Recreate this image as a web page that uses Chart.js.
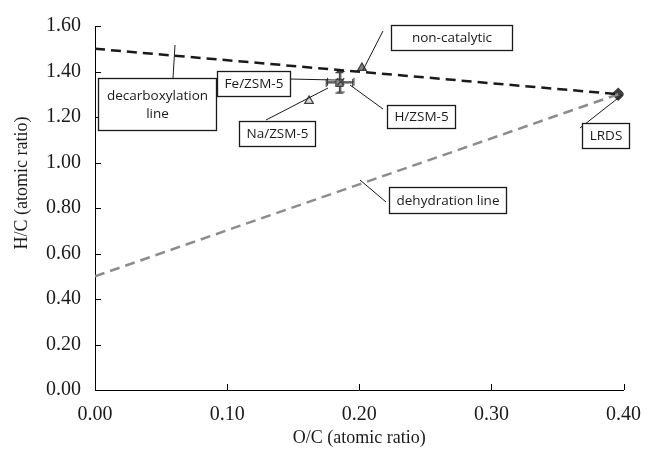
<!DOCTYPE html>
<html><head><meta charset="utf-8">
<script src="https://cdn.jsdelivr.net/npm/chart.js@4"></script>
<style>html,body{margin:0;padding:0;background:#fff}#wrap{width:654px;height:449px;position:relative}</style>
</head><body><div id="wrap"><canvas id="c"></canvas></div>
<script>
// ---- data ----
const sampleNames = ['LRDS', 'non-catalytic', 'H/ZSM-5', 'Fe/ZSM-5', 'Na/ZSM-5'];
const ocValues = [0.396, 0.202, 0.185, 0.186, 0.162];
const hcValues = [1.300, 1.416, 1.350, 1.355, 1.271];
const ocErrors = [0, 0, 0.010, 0.010, 0];
const hcErrors = [0, 0, 0.045, 0.045, 0];
const decarboxylationOC = [0.000, 0.396];
const decarboxylationHC = [1.500, 1.300];
const dehydrationOC = [0.000, 0.396];
const dehydrationHC = [0.500, 1.300];
const xTickValues = [0.00, 0.10, 0.20, 0.30, 0.40];
const yTickValues = [0.00, 0.20, 0.40, 0.60, 0.80, 1.00, 1.20, 1.40, 1.60];
const xAxisTitle = 'O/C (atomic ratio)';
const yAxisTitle = 'H/C (atomic ratio)';

// ---- styles ----
const markerStyles = ['rectRot', 'triangle', 'rect', 'crossRot', 'triangle'];
const markerFill = ['#404040', '#7f7f7f', '#8c8c8c', '#404040', '#d9d9d9'];
const markerBorder = ['#404040', '#404040', '#404040', '#404040', '#404040'];
const markerRadius = [6, 5, 5, 5, 5];

// annotation boxes (pixel layout)
const annotations = [
  {lines: ['decarboxylation', 'line'], left: 98, top: 78, width: 118, height: 52, leader: [173, 78, 175, 45]},
  {lines: ['Fe/ZSM-5'], left: 217, top: 71, height: 25, leader: [290, 79, 335, 80]},
  {lines: ['non-catalytic'], left: 391, top: 25, width: 121, height: 25, leader: [383, 31, 363, 70]},
  {lines: ['H/ZSM-5'], left: 387, top: 105, height: 23, leader: [383, 109, 350, 85]},
  {lines: ['Na/ZSM-5'], left: 239, top: 121, height: 25, leader: [266, 120, 328, 88]},
  {lines: ['dehydration line'], left: 389, top: 187, width: 117, height: 26, leader: [386, 202, 360, 180]},
  {lines: ['LRDS'], left: 582, top: 123, height: 25, leader: [580, 128, 622, 95]}
];

const points = sampleNames.map((n, i) => ({x: ocValues[i], y: hcValues[i]}));

const extrasPlugin = {
  id: 'extras',
  beforeDatasetsDraw(chart) {
    const ctx = chart.ctx, xs = chart.scales.x, ys = chart.scales.y;
    ctx.save();
    ctx.strokeStyle = '#404040';
    ctx.lineWidth = 1.1;
    sampleNames.forEach((n, i) => {
      const cx = xs.getPixelForValue(ocValues[i]);
      const cy = ys.getPixelForValue(hcValues[i]);
      if (hcErrors[i] > 0) {
        const y1 = ys.getPixelForValue(hcValues[i] - hcErrors[i]);
        const y2 = ys.getPixelForValue(hcValues[i] + hcErrors[i]);
        ctx.beginPath();
        ctx.moveTo(cx, y1); ctx.lineTo(cx, y2);
        ctx.moveTo(cx - 4, y1); ctx.lineTo(cx + 4, y1);
        ctx.moveTo(cx - 4, y2); ctx.lineTo(cx + 4, y2);
        ctx.stroke();
      }
      if (ocErrors[i] > 0) {
        const x1 = xs.getPixelForValue(ocValues[i] - ocErrors[i]);
        const x2 = xs.getPixelForValue(ocValues[i] + ocErrors[i]);
        ctx.beginPath();
        ctx.moveTo(x1, cy); ctx.lineTo(x2, cy);
        ctx.moveTo(x1, cy - 4); ctx.lineTo(x1, cy + 4);
        ctx.moveTo(x2, cy - 4); ctx.lineTo(x2, cy + 4);
        ctx.stroke();
      }
    });
    ctx.restore();
  },
  afterDraw(chart) {
    const ctx = chart.ctx, xs = chart.scales.x, ys = chart.scales.y, a = chart.chartArea;
    ctx.save();
    // inward ticks
    ctx.strokeStyle = '#000';
    ctx.lineWidth = 1;
    ctx.beginPath();
    yTickValues.forEach(v => {
      const y = Math.round(ys.getPixelForValue(v)) + 0.5;
      ctx.moveTo(a.left, y); ctx.lineTo(a.left + 6, y);
    });
    xTickValues.forEach(v => {
      const x = Math.round(xs.getPixelForValue(v)) + 0.5;
      ctx.moveTo(x, a.bottom); ctx.lineTo(x, a.bottom - 6);
    });
    ctx.stroke();
    // y title
    ctx.fillStyle = '#1a1a1a';
    ctx.font = '18px "Liberation Serif", "Times New Roman", serif';
    ctx.textAlign = 'center';
    ctx.textBaseline = 'middle';
    ctx.translate(22, 183);
    ctx.rotate(-Math.PI / 2);
    ctx.fillText(yAxisTitle, 0, 0);
    ctx.setTransform(1, 0, 0, 1, 0, 0);
    // annotations
    ctx.font = '13.5px "Open Sans", sans-serif';
    annotations.forEach(an => {
      const tw = Math.max(...an.lines.map(l => ctx.measureText(l).width));
      const w = an.width || Math.round(tw + 14);
      ctx.strokeStyle = '#1a1a1a';
      ctx.lineWidth = 1;
      ctx.beginPath();
      ctx.moveTo(an.leader[0], an.leader[1]);
      ctx.lineTo(an.leader[2], an.leader[3]);
      ctx.stroke();
      ctx.fillStyle = '#fff';
      ctx.fillRect(an.left, an.top, w, an.height);
      ctx.lineWidth = 1.3;
      ctx.strokeRect(an.left + 0.5, an.top + 0.5, w, an.height);
      ctx.fillStyle = '#1a1a1a';
      ctx.textBaseline = 'middle';
      ctx.textAlign = 'center';
      const lh = 18;
      const cy = an.top + an.height / 2 + 1;
      an.lines.forEach((l, k) => {
        const ty = cy + (k - (an.lines.length - 1) / 2) * lh;
        ctx.fillText(l, an.left + w / 2 + 0.5, ty);
      });
    });
    ctx.restore();
  }
};

new Chart(document.getElementById('c'), {
  type: 'scatter',
  data: {
    datasets: [
      {
        label: 'decarboxylation line',
        type: 'line',
        data: decarboxylationOC.map((x, i) => ({x, y: decarboxylationHC[i]})),
        borderColor: '#1a1a1a',
        borderWidth: 2.5,
        borderDash: [10, 6],
        pointRadius: 0,
        fill: false,
        tension: 0
      },
      {
        label: 'dehydration line',
        type: 'line',
        data: dehydrationOC.map((x, i) => ({x, y: dehydrationHC[i]})),
        borderColor: '#8c8c8c',
        borderWidth: 2.5,
        borderDash: [10, 6],
        pointRadius: 0,
        fill: false,
        tension: 0
      },
      {
        label: 'samples',
        data: points,
        pointStyle: markerStyles,
        backgroundColor: markerFill,
        borderColor: markerBorder,
        pointRadius: markerRadius,
        pointBorderWidth: 1.2,
        pointHoverRadius: markerRadius
      }
    ]
  },
  options: {
    responsive: true,
    maintainAspectRatio: false,
    animation: false,
    layout: {padding: {top: 25, right: 24, left: 0, bottom: 0}},
    plugins: {legend: {display: false}, tooltip: {enabled: false}},
    scales: {
      x: {
        type: 'linear',
        min: 0, max: 0.4,
        afterBuildTicks: s => { s.ticks = xTickValues.map(v => ({value: v})); },
        afterFit: s => { s.height = 59; },
        grid: {display: true, drawOnChartArea: false, drawTicks: false},
        border: {display: true, color: '#000', width: 1},
        ticks: {
          padding: 13,
          color: '#1a1a1a',
          font: {family: '"Liberation Serif", "Times New Roman", serif', size: 20},
          callback: v => Number(v).toFixed(2),
          maxRotation: 0
        },
        title: {
          display: true,
          text: xAxisTitle,
          color: '#1a1a1a',
          font: {family: '"Liberation Serif", "Times New Roman", serif', size: 18},
          padding: {top: 0, bottom: 0}
        }
      },
      y: {
        type: 'linear',
        min: 0, max: 1.6,
        afterBuildTicks: s => { s.ticks = yTickValues.map(v => ({value: v})); },
        afterFit: s => { s.width = 95; },
        grid: {display: true, drawOnChartArea: false, drawTicks: false},
        border: {display: true, color: '#000', width: 1},
        ticks: {
          padding: 14,
          color: '#1a1a1a',
          font: {family: '"Liberation Serif", "Times New Roman", serif', size: 20},
          callback: v => Number(v).toFixed(2)
        }
      }
    }
  },
  plugins: [extrasPlugin]
});
</script>
</body></html>
